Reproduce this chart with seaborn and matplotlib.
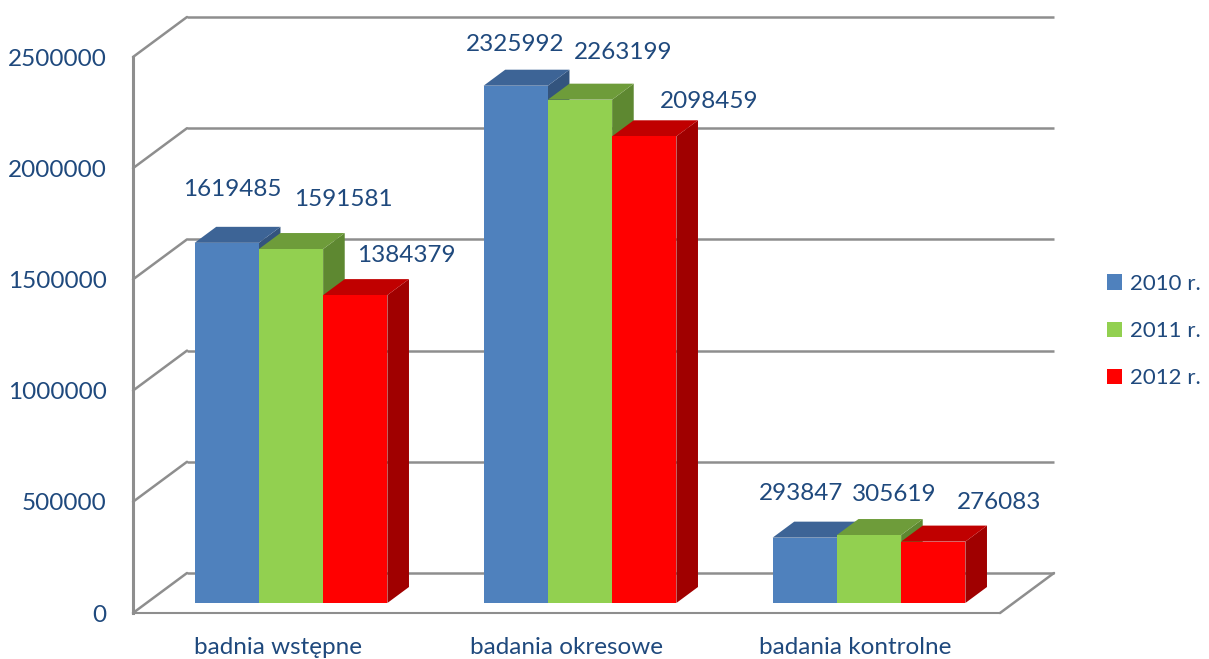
import numpy as np
import pandas as pd
import matplotlib
matplotlib.use("Agg")
import matplotlib.pyplot as plt
from matplotlib.patches import Polygon
import seaborn as sns

# ---- data ----
categories = ["badnia wstępne", "badania okresowe", "badania kontrolne"]
years = ["2010 r.", "2011 r.", "2012 r."]
values_2010 = [1619485, 2325992, 293847]
values_2011 = [1591581, 2263199, 305619]
values_2012 = [1384379, 2098459, 276083]
y_ticks = [0, 500000, 1000000, 1500000, 2000000, 2500000]

# ---- style ----
front_colors = ["#4F81BD", "#92D050", "#FF0000"]
top_colors = ["#3D6496", "#6E9C3A", "#C00000"]
side_colors = ["#33547E", "#5E8831", "#A00000"]
text_color = "#1F497D"
grid_color = "#8E8E8E"
font_size = 17.5

# value-label placement, pixels (right, up) from the centre of each bar's top front edge
label_offsets = [
    [(6, 53), (-1, 41), (-4, 44)],     # 2010
    [(52, 50), (43, 47), (25, 41)],    # 2011
    [(51, 40), (65, 35), (66, 39)],    # 2012
]

sns.set_style("white")
plt.rcParams["font.family"] = ["Lato", "DejaVu Sans"]

W, H = 1209, 659
fig = plt.figure(figsize=(W / 100, H / 100), dpi=100)

# pseudo-3D geometry in pixels
plane_left, plane_bottom = 133, 613          # front plane origin (screen px, y down)
plane_w, plane_h = 867, 556
depth = (54, 40)                              # full depth vector (right, up)
bar_front, bar_back = 0.25, 0.65              # bar slab inside the depth

x_lim = (-0.5, len(categories) - 0.5)
y_lim = (0, y_ticks[-1])
sx = (x_lim[1] - x_lim[0]) / plane_w
sy = (y_lim[1] - y_lim[0]) / plane_h

ax_front = fig.add_axes([plane_left / W, (H - plane_bottom) / H, plane_w / W, plane_h / H])
ax_bars = fig.add_axes([(plane_left + bar_front * depth[0]) / W,
                        (H - plane_bottom + bar_front * depth[1]) / H,
                        plane_w / W, plane_h / H])
ax_front.set_zorder(0)
ax_bars.set_zorder(1)

# ---- walls, floor and axes ----
ax_front.set_xlim(*x_lim)
ax_front.set_ylim(*y_lim)
ax_front.patch.set_alpha(0)
bx, by = depth[0] * sx, depth[1] * sy
for t in y_ticks:
    ax_front.plot([x_lim[0], x_lim[0] + bx], [t, t + by], color=grid_color,
                  lw=1.8, clip_on=False, solid_capstyle="round")
    ax_front.plot([x_lim[0] + bx, x_lim[1] + bx], [t + by, t + by], color=grid_color,
                  lw=1.8, clip_on=False, solid_capstyle="butt")
ax_front.plot([x_lim[1], x_lim[1] + bx], [0, by], color=grid_color, lw=1.8,
              clip_on=False, solid_capstyle="round")

for side in ["top", "right"]:
    ax_front.spines[side].set_visible(False)
ax_front.spines["left"].set_color(grid_color)
ax_front.spines["left"].set_linewidth(2.2)
ax_front.spines["bottom"].set_color(grid_color)
ax_front.spines["bottom"].set_linewidth(1.5)

ax_front.set_yticks(y_ticks, [str(t) for t in y_ticks])
ax_front.tick_params(axis="y", length=8, width=1, color=grid_color, pad=11,
                     labelsize=font_size, labelcolor=text_color)
ax_front.set_xticks(range(len(categories)), categories)
ax_front.tick_params(axis="x", which="major", length=0, pad=17,
                     labelsize=font_size, labelcolor=text_color)
ax_front.set_xticks(np.arange(len(categories) + 1) - 0.5, minor=True)
ax_front.tick_params(axis="x", which="minor", length=7, width=1,
                     direction="inout", color=grid_color)

# ---- bars ----
series = [values_2010, values_2011, values_2012]
df = pd.DataFrame(
    [(c, y, v) for y, vals in zip(years, series) for c, v in zip(categories, vals)],
    columns=["category", "year", "value"],
)
sns.barplot(data=df, x="category", y="value", hue="year", order=categories,
            hue_order=years, palette=front_colors, width=0.667, saturation=1,
            linewidth=0, ax=ax_bars)
handles, labels = ax_bars.get_legend_handles_labels()
if ax_bars.get_legend() is not None:
    ax_bars.get_legend().remove()
ax_bars.set_xlim(*x_lim)
ax_bars.set_ylim(*y_lim)
ax_bars.axis("off")

dx = (bar_back - bar_front) * depth[0] * sx
dy = (bar_back - bar_front) * depth[1] * sy

bars = []
for k, cont in enumerate(ax_bars.containers):
    for j, rect in enumerate(cont):
        bars.append((rect.get_x(), k, j, rect))
bars.sort(key=lambda b: b[0])

for n, (_, k, j, rect) in enumerate(bars):
    x0 = rect.get_x()
    x1 = x0 + rect.get_width()
    h = series[k][j]
    ax_bars.add_patch(Polygon([(x1, 0), (x1 + dx, dy), (x1 + dx, h + dy), (x1, h)],
                              closed=True, facecolor=side_colors[k], edgecolor="none",
                              zorder=3 * n + 1, clip_on=False))
    ax_bars.add_patch(Polygon([(x0, h), (x1, h), (x1 + dx, h + dy), (x0 + dx, h + dy)],
                              closed=True, facecolor=top_colors[k], edgecolor="none",
                              zorder=3 * n + 2, clip_on=False))
    rect.set_zorder(3 * n + 3)
    ox, oy = label_offsets[k][j]
    ax_bars.annotate(str(h), xy=((x0 + x1) / 2, h), xytext=(ox, oy),
                     textcoords="offset pixels", ha="center", va="center",
                     fontsize=font_size, color=text_color, zorder=100,
                     annotation_clip=False)

# ---- legend ----
fig.legend(handles, labels, loc="center left",
           bbox_to_anchor=(1107 / W, 1 - 331 / H), frameon=False,
           borderpad=0, borderaxespad=0, handlelength=0.68, handleheight=0.68,
           handletextpad=0.35, labelspacing=1.22, fontsize=16, labelcolor=text_color)

fig.savefig("out.png", dpi=100)
